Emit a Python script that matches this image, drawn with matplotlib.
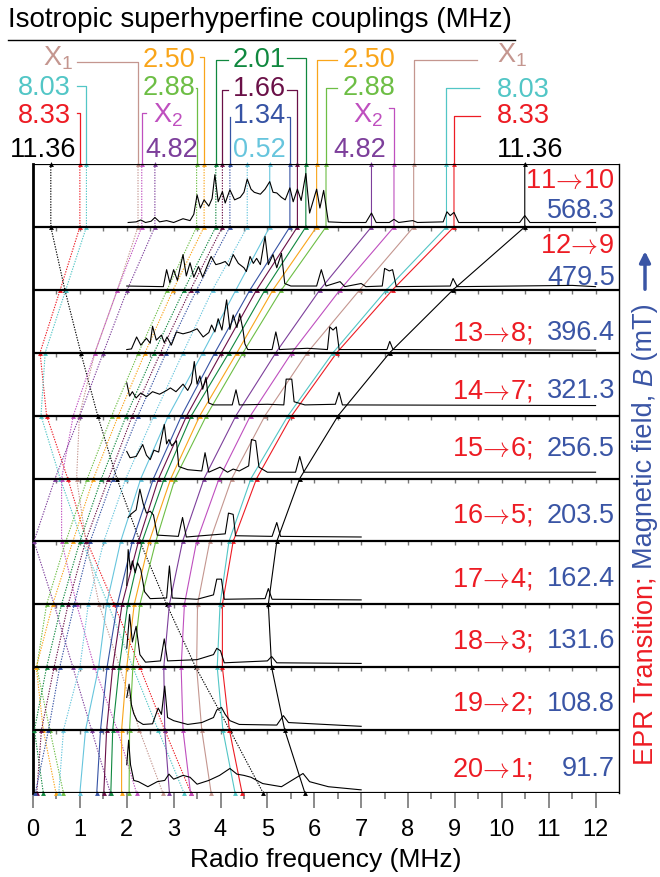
import numpy as np
import matplotlib
matplotlib.use("Agg")
import matplotlib.pyplot as plt
from matplotlib.lines import Line2D

plt.rcParams['font.family'] = ['Liberation Sans', 'DejaVu Sans']
plt.rcParams['mathtext.fontset'] = 'cm'

# ---- data -------------------------------------------------------------
ARROW = "$\\!\\rightarrow\\!$"
transitions = ["11" + ARROW + "10", "12" + ARROW + "9", "13" + ARROW + "8;", "14" + ARROW + "7;",
               "15" + ARROW + "6;", "16" + ARROW + "5;", "17" + ARROW + "4;", "18" + ARROW + "3;",
               "19" + ARROW + "2;", "20" + ARROW + "1;"]
fields = ["568.3", "479.5", "396.4", "321.3", "256.5", "203.5",
          "162.4", "131.6", "108.8", "91.7"]

# line positions (MHz) at the bottom edge of each panel, top panel first
# lo = dotted branch, hi = solid branch
black_lo = [0.38, 0.68, 1.02, 1.38, 1.79, 2.28, 2.85, 3.47, 4.20, 4.91]
black_hi = [10.49, 8.96, 7.61, 6.51, 5.69, 5.20, 5.02, 5.09, 5.37, 5.80]
red_lo = [1.00, 0.58, 0.15, 0.29, 0.74, 1.15, 1.73, 2.28, 2.81, 3.37]
red_hi = [8.98, 7.67, 6.48, 5.52, 4.77, 4.27, 4.04, 4.04, 4.19, 4.46]
cyan_lo = [1.14, 0.70, 0.26, 0.17, 0.58, 1.05, 1.60, 2.13, 2.67, 3.22]
cyan_hi = [8.82, 7.54, 6.40, 5.44, 4.65, 4.18, 3.99, 3.93, 4.05, 4.31]
x1_lo = [2.24, 1.80, 1.32, 0.99, 0.93, 1.13, 1.41, 1.85, 2.27, 2.77]
x1_hi = [8.12, 6.97, 5.85, 4.95, 4.24, 3.77, 3.51, 3.49, 3.60, 3.80]
x2_lo = [2.32, 1.80, 1.32, 0.86, 0.61, 0.61, 0.93, 1.31, 1.80, 2.21]
x2_hi = [7.70, 6.55, 5.52, 4.64, 3.97, 3.49, 3.23, 3.16, 3.20, 3.36]
p482_lo = [2.60, 2.01, 1.50, 1.00, 0.47, 0.02, 0.45, 0.85, 1.25, 1.65]
p482_hi = [7.22, 6.12, 5.18, 4.33, 3.65, 3.19, 2.91, 2.79, 2.81, 2.91]
g288_lo = [3.49, 2.86, 2.25, 1.68, 1.16, 0.70, 0.29, 0.08, 0.36, 0.65]
g288_hi = [6.25, 5.30, 4.48, 3.70, 3.03, 2.62, 2.28, 2.13, 2.06, 2.05]
o250_lo = [3.65, 2.99, 2.39, 1.82, 1.29, 0.85, 0.42, 0.07, 0.22, 0.49]
o250_hi = [6.05, 5.12, 4.35, 3.56, 2.94, 2.48, 2.16, 2.00, 1.89, 1.89]
d201_lo = [3.90, 3.22, 2.58, 1.99, 1.46, 1.00, 0.61, 0.29, 0.03, 0.22]
d201_hi = [5.82, 4.95, 4.18, 3.38, 2.80, 2.33, 2.02, 1.84, 1.70, 1.66]
m166_lo = [4.04, 3.36, 2.72, 2.12, 1.61, 1.12, 0.75, 0.45, 0.18, 0.08]
m166_hi = [5.64, 4.77, 4.02, 3.28, 2.68, 2.25, 1.90, 1.70, 1.57, 1.51]
b134_lo = [4.20, 3.49, 2.84, 2.24, 1.70, 1.22, 0.88, 0.57, 0.33, 0.05]
b134_hi = [5.48, 4.63, 3.88, 3.17, 2.57, 2.12, 1.80, 1.58, 1.44, 1.36]
l052_lo = [4.57, 3.83, 3.20, 2.58, 1.98, 1.51, 1.18, 1.00, 0.65, 0.55]
l052_hi = [5.05, 4.33, 3.62, 2.89, 2.30, 1.87, 1.57, 1.40, 1.12, 1.00]

# spectra: (MHz, height as fraction of the panel)
spec0 = [(2.03, .07), (2.2, .08), (2.3, .11), (2.4, .07), (2.52, .09), (2.6, .15), (2.7, .08),
         (2.85, .1), (3.0, .07), (3.2, .13), (3.35, .1), (3.43, .2), (3.5, .51), (3.57, .3),
         (3.65, .43), (3.75, .33), (3.82, .45), (3.88, .83), (3.95, .4), (4.04, .56), (4.1, .38),
         (4.2, .59), (4.3, .43), (4.42, .47), (4.5, .55), (4.57, .76), (4.65, .6), (4.72, .55),
         (4.85, .52), (4.95, .6), (5.05, .72), (5.12, .55), (5.2, .54), (5.3, .47), (5.38, .43),
         (5.48, .62), (5.55, .4), (5.64, .6), (5.72, .42), (5.82, .85), (5.9, .22), (6.05, .6),
         (6.12, .3), (6.2, .58), (6.3, .08), (6.6, .07), (7.1, .07), (7.22, .22), (7.32, .07),
         (7.6, .07), (7.7, .12), (7.8, .07), (8.1, .1), (8.2, .07), (8.75, .08), (8.83, .24),
         (8.9, .18), (8.98, .23), (9.08, .07), (10.38, .07), (10.49, .18), (10.6, .07), (12.0, .07)]
spec1 = [(2.0, .06), (2.78, .05), (2.85, .32), (2.92, .11), (3.0, .32), (3.08, .15), (3.2, .56),
         (3.27, .22), (3.35, .43), (3.43, .2), (3.53, .37), (3.62, .2), (3.7, .35), (3.8, .53),
         (3.9, .4), (4.0, .42), (4.1, .45), (4.18, .38), (4.27, .56), (4.38, .42), (4.5, .35),
         (4.55, .29), (4.63, .53), (4.7, .42), (4.77, .5), (4.85, .4), (4.95, .85), (5.02, .4),
         (5.12, .56), (5.2, .35), (5.3, .58), (5.37, .1), (5.5, .06), (6.05, .06), (6.15, .32),
         (6.25, .06), (6.55, .13), (6.65, .05), (7.0, .1), (7.1, .05), (7.45, .06), (7.5, .34),
         (7.6, .3), (7.67, .32), (7.75, .05), (8.9, .06), (8.96, .18), (9.05, .05), (11.5, .07),
         (12.0, .05)]
spec2 = [(2.0, .05), (2.1, .06), (2.21, .25), (2.3, .12), (2.42, .23), (2.5, .15), (2.55, .42),
         (2.63, .2), (2.74, .28), (2.8, .16), (2.86, .25), (2.95, .12), (3.06, .33), (3.2, .3),
         (3.35, .33), (3.5, .38), (3.63, .25), (3.75, .32), (3.81, .44), (3.88, .33), (3.95, .54),
         (4.03, .36), (4.13, .84), (4.2, .37), (4.27, .6), (4.35, .4), (4.41, .62), (4.48, .36),
         (4.52, .14), (4.58, .05), (5.1, .05), (5.18, .33), (5.26, .05), (5.85, .07), (6.28, .05),
         (6.33, .41), (6.4, .36), (6.47, .41), (6.53, .05), (7.55, .05), (7.61, .18), (7.68, .05),
         (12.0, .04)]
spec3 = [(2.0, .52), (2.06, .31), (2.12, .38), (2.2, .28), (2.3, .36), (2.42, .3), (2.55, .38),
         (2.7, .34), (2.85, .4), (2.93, .44), (3.05, .38), (3.2, .5), (3.3, .4), (3.38, .52),
         (3.44, .86), (3.5, .5), (3.56, .63), (3.62, .42), (3.69, .61), (3.75, .2), (3.85, .17),
         (4.25, .17), (4.33, .41), (4.4, .17), (5.0, .18), (5.35, .17), (5.4, .58), (5.52, .58),
         (5.57, .22), (5.8, .17), (6.45, .18), (6.53, .37), (6.6, .17), (12.0, .16)]
spec4 = [(2.0, .43), (2.07, .33), (2.2, .35), (2.34, .54), (2.42, .37), (2.5, .3), (2.58, .45),
         (2.68, .42), (2.8, .86), (2.85, .55), (2.9, .62), (2.96, .52), (3.06, .6), (3.11, .19),
         (3.3, .14), (3.6, .12), (3.67, .41), (3.75, .1), (3.99, .18), (4.15, .1), (4.27, .15),
         (4.4, .12), (4.5, .16), (4.6, .2), (4.66, .62), (4.75, .6), (4.82, .18), (5.0, .1),
         (5.6, .1), (5.69, .35), (5.78, .1), (12.0, .1)]
spec5 = [(2.03, .38), (2.1, .44), (2.2, .5), (2.28, .83), (2.35, .6), (2.42, .45), (2.5, .48),
         (2.57, .42), (2.65, .1), (3.1, .08), (3.19, .38), (3.27, .07), (3.6, .09), (4.1, .12),
         (4.17, .45), (4.27, .43), (4.32, .09), (5.1, .08), (5.2, .3), (5.28, .08), (7.0, .07)]
spec6 = [(2.0, .3), (2.03, .87), (2.08, .55), (2.12, .69), (2.18, .5), (2.23, .66), (2.3, .55),
         (2.38, .2), (2.5, .09), (2.85, .1), (2.91, .61), (2.97, .1), (3.5, .08), (3.85, .15),
         (3.92, .4), (4.02, .4), (4.08, .08), (4.95, .09), (5.02, .25), (5.1, .08), (7.0, .07)]
spec7 = [(2.0, .3), (2.06, .84), (2.12, .4), (2.2, .65), (2.28, .2), (2.4, .08), (2.72, .1),
         (2.8, .45), (2.87, .1), (3.5, .12), (3.85, .2), (3.92, .3), (4.0, .26), (4.08, .07),
         (5.0, .1), (5.09, .17), (5.2, .07), (7.0, .06)]
spec8 = [(2.0, .52), (2.05, .73), (2.1, .4), (2.15, .26), (2.22, .15), (2.35, .09), (2.55, .1),
         (2.67, .35), (2.74, .25), (2.81, .7), (2.87, .2), (3.0, .15), (3.3, .09), (3.6, .12),
         (3.85, .2), (3.92, .32), (4.02, .36), (4.1, .25), (4.2, .15), (4.4, .09), (5.2, .08),
         (5.34, .23), (5.45, .12), (7.0, .06)]
spec9 = [(2.0, .45), (2.04, .84), (2.08, .45), (2.15, .2), (2.25, .18), (2.45, .1), (2.65, .18),
         (2.81, .2), (2.9, .3), (3.0, .22), (3.2, .28), (3.35, .25), (3.5, .14), (3.75, .2),
         (3.98, .28), (4.2, .39), (4.35, .3), (4.5, .28), (4.65, .25), (4.9, .15), (5.3, .1),
         (5.76, .31), (5.9, .18), (6.3, .1), (7.0, .05)]
spectra = [spec0, spec1, spec2, spec3, spec4, spec5, spec6, spec7, spec8, spec9]

RED = '#ED1C24'
BLUE = '#3A55A5'
lines = [  # (dotted, solid, colour)
    (black_lo, black_hi, '#000000'),
    (red_lo, red_hi, RED),
    (cyan_lo, cyan_hi, '#52C6C6'),
    (x1_lo, x1_hi, '#C4968F'),
    (x2_lo, x2_hi, '#BF4FBF'),
    (p482_lo, p482_hi, '#7D3F9B'),
    (g288_lo, g288_hi, '#6DBE45'),
    (o250_lo, o250_hi, '#F9A51A'),
    (d201_lo, d201_hi, '#10883F'),
    (m166_lo, m166_hi, '#6A1047'),
    (b134_lo, b134_hi, '#3653A4'),
    (l052_lo, l052_hi, '#67C5DD'),
]
col = {name: c for name, (_, _, c) in zip(
    ["11.36", "8.33", "8.03", "X1", "X2", "4.82", "2.88", "2.50", "2.01", "1.66", "1.34", "0.52"], lines)}

# ---- figure -----------------------------------------------------------
W, H = 660, 877
fig = plt.figure(figsize=(W / 100, H / 100), dpi=100)
ax = fig.add_axes([33 / W, 1 - 793 / H, 586 / W, 629 / H])
ax.set_xlim(0, 12.5)
ax.set_ylim(0, 10)


def xd(px):
    return (px - 33) / 46.88


def yd(py):
    return (793 - py) / 62.9


ys = np.arange(10, -1, -1)
for lo, hi, c in lines:
    ax.plot([lo[0]] + lo, ys, color=c, lw=0.8, ls=(0, (1.2, 1.2)), marker='^',
            ms=3.5, mew=0, clip_on=False, zorder=3)
    ax.plot([hi[0]] + hi, ys, color=c, lw=0.8, marker='^', ms=3.5, mew=0,
            clip_on=False, zorder=3)

for k, spec in enumerate(spectra):
    sx, sy = zip(*spec)
    ax.plot(sx, 9 - k + np.array(sy), color='k', lw=0.8, zorder=4)

# panel borders and little ticks on each internal border
for k in range(11):
    ax.axhline(k, color='k', lw=1.6, zorder=5)
for k in range(1, 10):
    ax.vlines(np.arange(0.5, 12.01, 0.5), k - 4 / 62.9, k, color='#777777', lw=1, zorder=2)

for s in ['top', 'bottom']:
    ax.spines[s].set_visible(False)
ax.spines['left'].set_linewidth(2)
ax.spines['right'].set_linewidth(1)
ax.set_yticks([])
ax.set_xticks(range(13))
ax.set_xticks(np.arange(0.5, 12.01, 1), minor=True)
ax.tick_params(axis='x', which='major', length=11, width=1.2, color='#777777',
               labelsize=17, pad=8)
ax.tick_params(axis='x', which='minor', length=4, width=1.2, color='#777777')
ax.set_xlabel("Radio frequency (MHz)", fontsize=19, labelpad=5)

# right hand labels
FS = 19.5
for k in range(10):
    if k == 0:
        ax.text(xd(615), yd(188), transitions[k], color=RED, ha='right', va='baseline', fontsize=FS)
        ax.text(xd(615), yd(218), fields[k], color=BLUE, ha='right', va='baseline', fontsize=FS)
    elif k == 1:
        ax.text(xd(615), yd(253), transitions[k], color=RED, ha='right', va='baseline', fontsize=FS)
        ax.text(xd(615), yd(285), fields[k], color=BLUE, ha='right', va='baseline', fontsize=FS)
    else:
        base = [340, 398, 456, 523, 586, 648, 711, 776][k - 2]
        ax.text(xd(533), yd(base), transitions[k], color=RED, ha='right', va='baseline', fontsize=FS)
        ax.text(xd(615), yd(base), fields[k], color=BLUE, ha='right', va='baseline', fontsize=FS)

# header: coupling labels and the brackets down to the top markers
labels = [  # text, colour key, left px, baseline px
    ("$\\mathregular{X_1}$", "X1", 43, 65), ("8.03", "8.03", 18, 95), ("8.33", "8.33", 18, 123),
    ("11.36", "11.36", 10, 157),
    ("2.50", "2.50", 143, 67), ("2.88", "2.88", 143, 95), ("$\\mathregular{X_2}$", "X2", 153, 123),
    ("4.82", "4.82", 145, 157),
    ("2.01", "2.01", 233, 67), ("1.66", "1.66", 233, 96), ("1.34", "1.34", 233, 123),
    ("0.52", "0.52", 233, 157),
    ("2.50", "2.50", 343, 67), ("2.88", "2.88", 343, 95), ("$\\mathregular{X_2}$", "X2", 353, 123),
    ("4.82", "4.82", 333, 157),
    ("$\\mathregular{X_1}$", "X1", 497, 63), ("8.03", "8.03", 497, 97), ("8.33", "8.33", 497, 123),
    ("11.36", "11.36", 497, 157),
]
for s, key, px, py in labels:
    ax.text(xd(px), yd(py), s, color=col[key], ha='left', va='baseline', fontsize=19.5,
            clip_on=False)

brackets = [  # colour key, bracket height px, start px, top-marker position
    ("X1", 62, 77, x1_lo[0]), ("8.03", 86, 77, cyan_lo[0]), ("8.33", 113, 77, red_lo[0]),
    ("X2", 113, 146, x2_lo[0]), ("2.50", 57, 200, o250_lo[0]), ("2.88", 88, 196, g288_lo[0]),
    ("2.01", 60, 228, d201_lo[0]), ("2.01", 58, 287, d201_hi[0]),
    ("1.66", 90, 228, m166_lo[0]), ("1.66", 90, 287, m166_hi[0]),
    ("1.34", 117, 230, b134_lo[0]), ("1.34", 117, 287, b134_hi[0]),
    ("2.50", 60, 337, o250_hi[0]), ("2.88", 88, 337, g288_hi[0]), ("X2", 108, 389, x2_hi[0]),
    ("X1", 60, 477, x1_hi[0]), ("8.03", 88, 479, cyan_hi[0]), ("8.33", 116, 480, red_hi[0]),
]
for key, py, px, xm in brackets:
    ax.plot([xd(px), xm, xm], [yd(py), yd(py), 10], color=col[key], lw=0.9, clip_on=False)

# title with rule
fig.text(8 / W, 1 - 27 / H, "Isotropic superhyperfine couplings (MHz)", fontsize=20,
         ha='left', va='baseline')
fig.add_artist(Line2D([8 / W, 515 / W], [1 - 40 / H] * 2, color='k', lw=1))

# vertical label at right, built piece by piece
renderer = fig.canvas.get_renderer()
ypix = H - 765
pieces = [("EPR Transition; ", RED, 'normal'), ("Magnetic field, ", BLUE, 'normal'),
          ("B", BLUE, 'italic'), (" (mT)", BLUE, 'normal')]
for s, c, st in pieces:
    t = fig.text(645 / W, ypix / H, s, color=c, fontstyle=st, rotation=90,
                 rotation_mode='anchor', ha='left', va='center', fontsize=19.5)
    bb = t.get_window_extent(renderer)
    ypix = bb.y1
ax.annotate('', xy=(645 / W, (ypix + 52) / H), xytext=(645 / W, (ypix + 14) / H),
            xycoords='figure fraction', textcoords='figure fraction',
            arrowprops=dict(arrowstyle='-|>', color=BLUE, lw=2.5, mutation_scale=16,
                            shrinkA=0, shrinkB=0))

fig.savefig("out.png", dpi=100)
